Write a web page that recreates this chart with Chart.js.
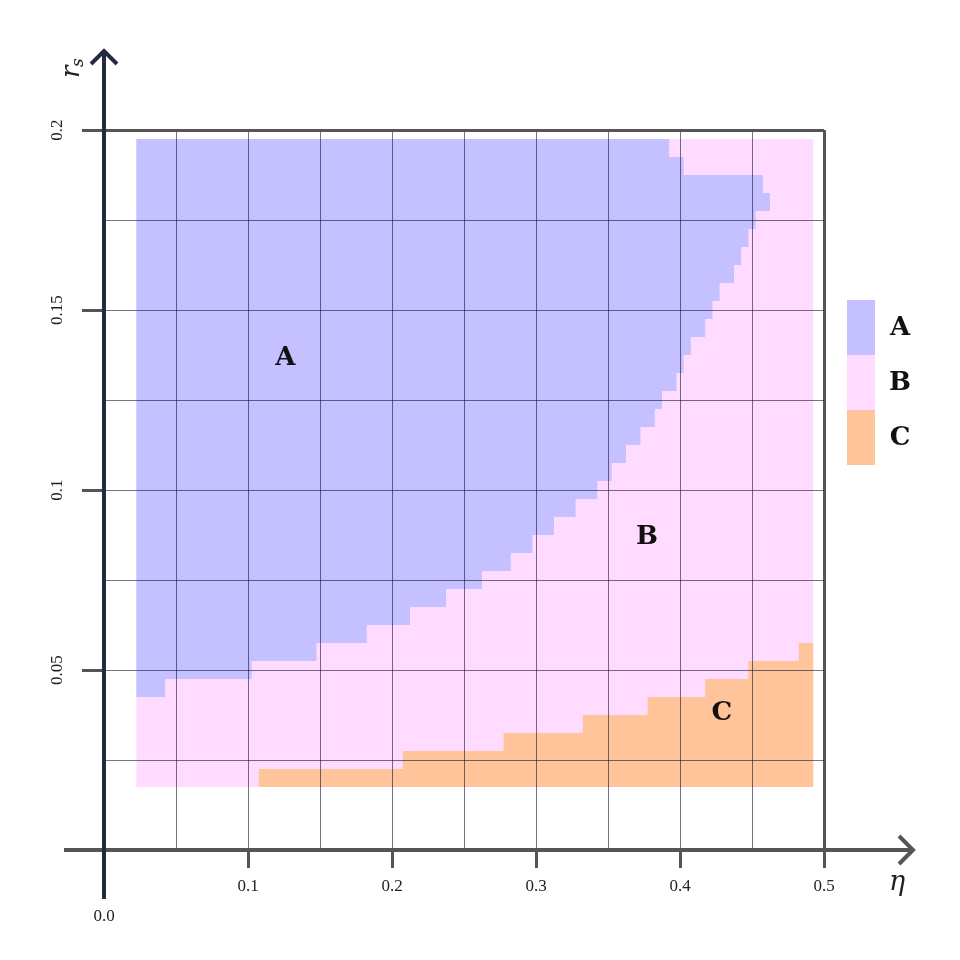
<!DOCTYPE html>
<html>
<head>
<meta charset="utf-8">
<script src="https://cdn.jsdelivr.net/npm/chart.js@4.4.1/dist/chart.umd.min.js"></script>
<style>
  body { margin: 0; background: #fff; }
</style>
</head>
<body>
<canvas id="mychart" width="960" height="960"></canvas>
<script>
// scan grid: eta from 0.025 to 0.49, r_s from 0.02 to 0.195 (step 0.005)
var etaFirst = 0.025;
var etaLast = 0.49;
var cellStep = 0.005;

// one row per r_s value
var rsRows = [0.02, 0.025, 0.03, 0.035, 0.04, 0.045, 0.05, 0.055, 0.06, 0.065,
              0.07, 0.075, 0.08, 0.085, 0.09, 0.095, 0.1, 0.105, 0.11, 0.115,
              0.12, 0.125, 0.13, 0.135, 0.14, 0.145, 0.15, 0.155, 0.16, 0.165,
              0.17, 0.175, 0.18, 0.185, 0.19, 0.195];

// last eta of each row that is in region A (null = none)
var aLastEta = [null, null, null, null, null, 0.04, 0.10, 0.145, 0.18, 0.21,
                0.235, 0.26, 0.28, 0.295, 0.31, 0.325, 0.34, 0.35, 0.36, 0.37,
                0.38, 0.385, 0.395, 0.40, 0.405, 0.415, 0.42, 0.425, 0.435, 0.44,
                0.445, 0.45, 0.46, 0.455, 0.40, 0.39];

// first eta of each row that is in region C (null = none)
var cFirstEta = [0.11, 0.21, 0.28, 0.335, 0.38, 0.42, 0.45, 0.485, null, null,
                 null, null, null, null, null, null, null, null, null, null,
                 null, null, null, null, null, null, null, null, null, null,
                 null, null, null, null, null, null];

var regionNames = ['A', 'B', 'C'];
var regionColors = ['#c5c0ff', '#ffdcff', '#ffc499'];
// where the big letters sit (eta, r_s)
var regionLabelAt = [[0.126, 0.1365], [0.377, 0.087], [0.429, 0.038]];

// tick labels
var xTickValues = [0.1, 0.2, 0.3, 0.4, 0.5];
var xTickLabels = ['0.1', '0.2', '0.3', '0.4', '0.5'];
var yTickValues = [0.05, 0.1, 0.15, 0.2];
var yTickLabels = ['0.05', '0.1', '0.15', '0.2'];

// 行ごとの浮動棒データを作る
var half = cellStep / 2;
var dataA = [], dataB = [], dataC = [];
for (var i = 0; i < rsRows.length; i++) {
  dataB.push({y: rsRows[i], x: [etaFirst - half, etaLast + half]});
  if (aLastEta[i] !== null) {
    dataA.push({y: rsRows[i], x: [etaFirst - half, aLastEta[i] + half]});
  }
  if (cFirstEta[i] !== null) {
    dataC.push({y: rsRows[i], x: [cFirstEta[i] - half, etaLast + half]});
  }
}

function findTick(values, labels, v) {
  for (var k = 0; k < values.length; k++) {
    if (Math.abs(values[k] - v) < 1e-6) return labels[k];
  }
  return '';
}

function gridColor(edge) {
  return function(c) {
    var v = c.tick ? c.tick.value : 0;
    if (Math.abs(v) < 1e-6) return 'rgba(0,0,0,0)';
    if (Math.abs(v - edge) < 1e-6) return '#555';
    return 'rgba(20,20,60,0.6)';
  };
}
function gridWidth(edge) {
  return function(c) {
    var v = c.tick ? c.tick.value : 0;
    return Math.abs(v - edge) < 1e-6 ? 3 : 1;
  };
}
function tickMarkColor(values) {
  return function(c) {
    var v = c.tick ? c.tick.value : 0;
    return findTick(values, values, v) !== '' ? '#555' : 'rgba(0,0,0,0)';
  };
}

// 矢印・凡例・文字
var decorPlugin = {
  id: 'decor',
  afterDraw: function(chart) {
    var ctx = chart.ctx;
    var xs = chart.scales.x, ys = chart.scales.y;
    var x0 = xs.getPixelForValue(0), y0 = ys.getPixelForValue(0);
    ctx.save();

    // region letters
    ctx.fillStyle = '#111';
    ctx.font = 'bold 26px "DejaVu Serif"';
    ctx.textAlign = 'center';
    ctx.textBaseline = 'middle';
    for (var k = 0; k < regionNames.length; k++) {
      ctx.fillText(regionNames[k], xs.getPixelForValue(regionLabelAt[k][0]), ys.getPixelForValue(regionLabelAt[k][1]));
    }

    // x axis arrow
    ctx.lineWidth = 4;
    ctx.strokeStyle = '#555';
    var tipX = xs.right + 89;
    ctx.beginPath();
    ctx.moveTo(x0 - 40, y0);
    ctx.lineTo(tipX - 2, y0);
    ctx.stroke();
    ctx.beginPath();
    ctx.moveTo(tipX - 14, y0 - 14);
    ctx.lineTo(tipX, y0);
    ctx.lineTo(tipX - 14, y0 + 14);
    ctx.stroke();

    // y axis arrow
    ctx.strokeStyle = '#232b3e';
    var tipY = ys.top - 79;
    ctx.beginPath();
    ctx.moveTo(x0, y0 + 49);
    ctx.lineTo(x0, tipY + 2);
    ctx.stroke();
    ctx.beginPath();
    ctx.moveTo(x0 - 13, tipY + 13);
    ctx.lineTo(x0, tipY);
    ctx.lineTo(x0 + 13, tipY + 13);
    ctx.stroke();

    // origin label
    ctx.fillStyle = '#222';
    ctx.font = '17px "Liberation Serif"';
    ctx.fillText('0.0', x0, y0 + 67);

    // axis titles
    ctx.font = 'italic 27px "DejaVu Serif"';
    ctx.fillText('\u03b7', xs.right + 73, y0 + 33);
    ctx.save();
    ctx.translate(x0 - 32, ys.top - 60);
    ctx.rotate(-Math.PI / 2);
    ctx.textAlign = 'left';
    ctx.font = 'italic 26px "DejaVu Serif"';
    ctx.fillText('r', -8, 0);
    ctx.font = 'italic 17px "DejaVu Serif"';
    ctx.fillText('s', 3, 7);
    ctx.restore();

    // legend
    var bx = xs.right + 23, by = ys.top + 170, bw = 28, bh = 55;
    for (var j = 0; j < regionNames.length; j++) {
      var ds = chart.data.datasets.filter(function(d) { return d.label === regionNames[j]; })[0];
      ctx.fillStyle = ds.backgroundColor;
      ctx.fillRect(bx, by + j * bh, bw, bh);
      ctx.fillStyle = '#111';
      ctx.font = 'bold 26px "DejaVu Serif"';
      ctx.fillText(ds.label, bx + 53, by + j * bh + bh / 2 + 1);
    }
    ctx.restore();
  }
};

var ctx_map = document.getElementById('mychart');
var myChart = new Chart(ctx_map, {
  type: 'bar',
  data: {
    datasets: [{
      label: 'A',
      data: dataA,
      backgroundColor: regionColors[0],
      order: 0,
    }, {
      label: 'B',
      data: dataB,
      backgroundColor: regionColors[1],
      order: 2,
    }, {
      label: 'C',
      data: dataC,
      backgroundColor: regionColors[2],
      order: 1,
    }],
  },
  options: {
    responsive: false,
    animation: false,
    indexAxis: 'y',
    layout: { padding: { left: 0, right: 136, top: 130, bottom: 0 } },
    datasets: {
      bar: {
        grouped: false,
        barPercentage: 1,
        categoryPercentage: 1,
        borderWidth: 0,
        inflateAmount: 0,
      },
    },
    scales: {
      x: {
        type: 'linear',
        min: 0,
        max: 0.5,
        afterFit: function(s) { s.height = 110; },
        border: { display: false },
        grid: {
          z: 1,
          color: gridColor(0.5),
          lineWidth: gridWidth(0.5),
          tickColor: tickMarkColor(xTickValues),
          tickWidth: 3,
          tickLength: 18,
        },
        ticks: {
          z: 1,
          stepSize: 0.05,
          autoSkip: false,
          maxRotation: 0,
          padding: 8,
          color: '#222',
          font: { family: 'Liberation Serif', size: 17 },
          callback: function(v) { return findTick(xTickValues, xTickLabels, v); },
        },
      },
      y: {
        type: 'linear',
        min: 0,
        max: 0.2,
        offset: false,
        afterFit: function(s) { s.width = 104; },
        border: { display: false },
        grid: {
          z: 1,
          offset: false,
          color: gridColor(0.2),
          lineWidth: gridWidth(0.2),
          tickColor: tickMarkColor(yTickValues),
          tickWidth: 3,
          tickLength: 22,
        },
        ticks: {
          z: 1,
          stepSize: 0.025,
          autoSkip: false,
          minRotation: 90,
          maxRotation: 90,
          crossAlign: 'center',
          padding: 10,
          color: '#222',
          font: { family: 'Liberation Serif', size: 17 },
          callback: function(v) { return findTick(yTickValues, yTickLabels, v); },
        },
      },
    },
    plugins: {
      legend: { display: false },
      tooltip: { enabled: false },
    },
  },
  plugins: [decorPlugin],
});
</script>
</body>
</html>
